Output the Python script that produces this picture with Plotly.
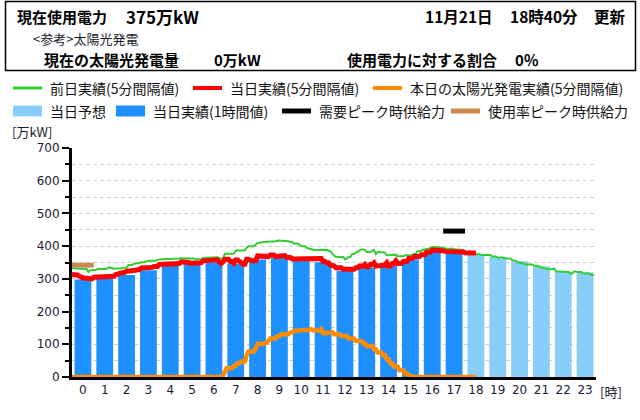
import plotly.graph_objects as go

# ---------------- data ----------------
hours = list(range(24))
hour_labels = [str(h) for h in hours]

# hourly actual (0-17) and forecast (18-23), 万kW
actual_hourly = [298, 301, 312, 326, 339, 347, 350, 346, 359, 365, 357, 351,
                 325, 335, 340, 360, 385, 380]
forecast_hourly = [376, 367, 354, 338, 321, 320]

# previous day, 5-minute values (12 per hour)
prev_day = [
    333, 332, 331, 331, 331, 331, 331, 331, 330, 321, 326, 327,
    327, 327, 330, 330, 330, 330, 330, 330, 335, 335, 333, 331,
    331, 331, 333, 333, 333, 333, 333, 342, 342, 342, 346, 348,
    348, 348, 351, 351, 351, 353, 355, 355, 355, 355, 355, 358,
    360, 360, 360, 360, 360, 361, 361, 361, 361, 361, 361, 362,
    363, 363, 363, 363, 363, 363, 363, 362, 360, 360, 360, 360,
    364, 364, 364, 364, 366, 366, 366, 366, 366, 362, 362, 362,
    377, 377, 377, 377, 377, 377, 387, 387, 387, 387, 387, 387,
    395, 400, 400, 400, 400, 405, 410, 410, 410, 413, 413, 413,
    413, 413, 413, 413, 415, 417, 417, 417, 417, 417, 417, 415,
    413, 413, 408, 408, 408, 404, 400, 400, 400, 395, 393, 390,
    388, 388, 388, 388, 388, 389, 389, 389, 389, 386, 384, 377,
    372, 367, 367, 367, 367, 367, 360, 362, 367, 367, 376, 376,
    380, 384, 388, 390, 390, 388, 382, 382, 382, 386, 388, 376,
    382, 382, 382, 382, 380, 372, 372, 372, 372, 374, 374, 369,
    369, 369, 369, 372, 372, 372, 372, 372, 377, 377, 384, 384,
    386, 388, 390, 393, 393, 393, 397, 397, 397, 395, 395, 395,
    395, 393, 392, 392, 392, 392, 390, 390, 390, 390, 388, 388,
    384, 382, 380, 377, 376, 376, 376, 376, 375, 373, 373, 373,
    373, 373, 373, 368, 368, 368, 365, 365, 365, 365, 362, 362,
    362, 362, 357, 357, 355, 350, 350, 350, 348, 344, 344, 344,
    344, 344, 340, 340, 340, 337, 335, 335, 333, 329, 329, 329,
    329, 331, 323, 323, 323, 323, 323, 323, 321, 321, 316, 316,
    323, 321, 321, 321, 321, 316, 316, 316, 316, 313, 311, 311,
]

# current day, 5-minute values (0:00 - 18:30)
today = [
    313, 313, 313, 312, 308, 303, 303, 303, 303, 300, 300, 300,
    305, 305, 305, 305, 305, 305, 305, 308, 308, 308, 308, 308,
    313, 313, 317, 317, 317, 320, 323, 323, 323, 323, 323, 326,
    328, 328, 333, 333, 333, 333, 333, 333, 335, 338, 338, 338,
    344, 344, 344, 344, 344, 344, 344, 344, 344, 347, 347, 347,
    352, 352, 352, 352, 350, 348, 348, 348, 348, 348, 348, 349,
    355, 355, 355, 355, 358, 358, 358, 358, 358, 352, 347, 352,
    360, 360, 360, 353, 353, 348, 358, 358, 353, 353, 345, 345,
    360, 360, 355, 355, 355, 355, 370, 370, 370, 370, 370, 370,
    368, 373, 373, 373, 368, 368, 368, 368, 371, 371, 365, 365,
    365, 361, 361, 361, 361, 361, 361, 361, 361, 360, 360, 360,
    360, 362, 362, 362, 362, 362, 353, 353, 349, 349, 342, 342,
    340, 334, 334, 334, 334, 329, 329, 329, 329, 329, 329, 329,
    334, 334, 339, 339, 339, 344, 337, 337, 344, 344, 349, 339,
    339, 339, 342, 342, 342, 349, 339, 339, 347, 347, 355, 347,
    347, 347, 353, 353, 353, 362, 362, 362, 368, 368, 368, 368,
    374, 374, 374, 382, 382, 382, 388, 388, 388, 388, 388, 388,
    386, 384, 384, 384, 384, 384, 384, 382, 382, 382, 382, 382,
    380, 379, 379, 379, 379, 379, 379,
]

# solar generation today, 5-minute values (0:00 - 18:30)
solar = [
    0, 0, 0, 0, 0, 0, 0, 0, 0, 0, 0, 0,
    0, 0, 0, 0, 0, 0, 0, 0, 0, 0, 0, 0,
    0, 0, 0, 0, 0, 0, 0, 0, 0, 0, 0, 0,
    0, 0, 0, 0, 0, 0, 0, 0, 0, 0, 0, 0,
    0, 0, 0, 0, 0, 0, 0, 0, 0, 0, 0, 0,
    0, 0, 0, 0, 0, 0, 0, 0, 0, 0, 0, 0,
    0, 0, 0, 0, 0, 0, 0, 0, 0, 0, 0, 4,
    20, 27, 27, 27, 27, 34, 34, 42, 42, 47, 47, 47,
    67, 78, 78, 78, 78, 88, 101, 101, 101, 101, 105, 105,
    111, 118, 118, 118, 118, 125, 125, 131, 131, 131, 131, 131,
    136, 136, 141, 141, 141, 141, 144, 144, 144, 144, 144, 147,
    144, 142, 142, 142, 142, 146, 134, 134, 134, 137, 137, 137,
    131, 131, 131, 131, 125, 125, 125, 125, 118, 118, 118, 118,
    110, 110, 110, 110, 103, 103, 95, 95, 95, 95, 85, 85,
    75, 75, 75, 67, 67, 54, 54, 42, 42, 32, 32, 32,
    21, 21, 21, 11, 11, 5, 3, 0, 0, 0, 0, 0,
    0, 0, 0, 0, 0, 0, 0, 0, 0, 0, 0, 0,
    0, 0, 0, 0, 0, 0, 0, 0, 0, 0, 0, 0,
    0, 0, 0, 0, 0, 0, 0,
]

peak_demand_hour = 17
peak_demand_supply = 446
peak_rate_hour = 0
peak_rate_supply = 342

# ---------------- geometry helpers ----------------
L, R, T, B = 72, 596, 148, 377
W, H = R - L, B - T


def px(p):
    return (p - L) / W


def py(p):
    return (B - p) / H


def t5(n):
    # 5-minute sample times mapped to the hourly category axis
    return [i * 5 / 60 - 0.5 for i in range(n)]


C_GREEN = "#33CC33"
C_RED = "#FF0000"
C_ORANGE = "#FF8C00"
C_LBLUE = "#87CEFA"
C_BLUE = "#1E90FF"
C_BLACK = "#000000"
C_BROWN = "#C88A50"

JP = "Noto Sans CJK JP"

fig = go.Figure()

fig.add_trace(go.Bar(x=hours[:len(actual_hourly)], y=actual_hourly, width=0.77,
                     marker=dict(color=C_BLUE, line=dict(width=0)), name="当日実績(1時間値)"))
fig.add_trace(go.Bar(x=hours[len(actual_hourly):], y=forecast_hourly, width=0.77,
                     marker=dict(color=C_LBLUE, line=dict(width=0)), name="当日予想"))

fig.add_trace(go.Scatter(x=t5(len(solar)), y=solar, mode="lines",
                         line=dict(color=C_ORANGE, width=4.5), name="本日の太陽光発電実績(5分間隔値)"))
fig.add_trace(go.Scatter(x=t5(len(prev_day)), y=prev_day, mode="lines",
                         line=dict(color=C_GREEN, width=2), name="前日実績(5分間隔値)"))
fig.add_trace(go.Scatter(x=t5(len(today)), y=today, mode="lines",
                         line=dict(color=C_RED, width=5), name="当日実績(5分間隔値)"))

fig.add_trace(go.Scatter(x=[peak_demand_hour - 0.5, peak_demand_hour + 0.5],
                         y=[peak_demand_supply, peak_demand_supply], mode="lines",
                         line=dict(color=C_BLACK, width=5), name="需要ピーク時供給力"))
fig.add_trace(go.Scatter(x=[peak_rate_hour - 0.5, peak_rate_hour + 0.5],
                         y=[peak_rate_supply, peak_rate_supply], mode="lines",
                         line=dict(color=C_BROWN, width=5), name="使用率ピーク時供給力"))

shapes = []
annotations = []

# header box
shapes.append(dict(type="rect", xref="paper", yref="paper",
                   x0=px(5.5), x1=px(635.5), y0=py(70.5), y1=py(1.5),
                   line=dict(color="#000", width=1.5), fillcolor="rgba(0,0,0,0)"))


def text(s, x, y, size, bold=False, anchor="left", color="#000", family=JP):
    annotations.append(dict(text=("<b>%s</b>" % s) if bold else s, xref="paper", yref="paper",
                            x=px(x), y=py(y), xanchor=anchor, yanchor="middle", showarrow=False,
                            font=dict(family=family, size=size, color=color)))


text("現在使用電力", 15, 16, 15, True)
text("375万kW", 124, 16, 17, True)
text("11月21日", 423, 16, 15.5, True)
text("18時40分", 508, 16, 15.5, True)
text("更新", 592, 16, 15.5, True)
text("&lt;参考&gt;太陽光発電", 31, 39, 13, False, color="#1a1a2a")
text("現在の太陽光発電量", 42, 59, 15, True)
text("0万kW", 212, 59, 15, True)
text("使用電力に対する割合", 345, 59, 15, True)
text("0％", 513, 59, 15, True)

# legend (manual)
legend_items = [
    (13, 88, "line", C_GREEN, 3, "前日実績(5分間隔値)"),
    (193, 88, "line", C_RED, 4, "当日実績(5分間隔値)"),
    (373, 88, "line", C_ORANGE, 4, "本日の太陽光発電実績(5分間隔値)"),
    (13, 111, "box", C_LBLUE, 11, "当日予想"),
    (116, 111, "box", C_BLUE, 11, "当日実績(1時間値)"),
    (282, 111, "line", C_BLACK, 5, "需要ピーク時供給力"),
    (451, 111, "line", C_BROWN, 5, "使用率ピーク時供給力"),
]
for x0, yc, kind, col, th, label in legend_items:
    shapes.append(dict(type="rect", xref="paper", yref="paper",
                       x0=px(x0), x1=px(x0 + 29), y0=py(yc + th / 2), y1=py(yc - th / 2),
                       line=dict(width=0), fillcolor=col))
    text(label, x0 + 35, yc, 14, False, color="#111")

text("[万kW]", 10, 131, 13, False, color="#1a1a2a")
text("[時]", 598, 391, 13, False, color="#1a1a2a")

fig.update_layout(
    width=640, height=420,
    margin=dict(l=L, r=640 - R, t=T, b=420 - B, pad=0, autoexpand=False),
    paper_bgcolor="white", plot_bgcolor="white",
    showlegend=False, barmode="overlay",
    shapes=shapes, annotations=annotations,
    font=dict(family="DejaVu Sans", size=12, color="#1a1a3a"),
)

fig.update_xaxes(range=[-0.5, 23.5], tickmode="array", tickvals=hours, ticktext=hour_labels,
                 showline=True, linecolor="#000", linewidth=3, ticks="", showgrid=False,
                 zeroline=False, layer="below traces", fixedrange=True, automargin=False,
                 tickfont=dict(family="DejaVu Sans", size=12, color="#1a1a3a"))
fig.update_yaxes(range=[0, 700], dtick=100, tick0=0, showline=True, linecolor="#000", linewidth=3,
                 ticks="outside", ticklen=7, tickwidth=2, tickcolor="#000",
                 showgrid=True, gridcolor="#cfcfcf", gridwidth=1, griddash="4px,3px",
                 zeroline=False, layer="below traces", fixedrange=True, automargin=False,
                 tickfont=dict(family="DejaVu Sans", size=12, color="#1a1a3a"),
                 minor=dict(dtick=50, tick0=0, ticks="outside", ticklen=4, tickwidth=2, tickcolor="#000",
                            showgrid=True, gridcolor="#cfcfcf", gridwidth=1, griddash="4px,3px"))

fig.write_html("out.html", config={"displayModeBar": False},
               post_script="document.body.style.margin='0';document.body.style.padding='0';")
